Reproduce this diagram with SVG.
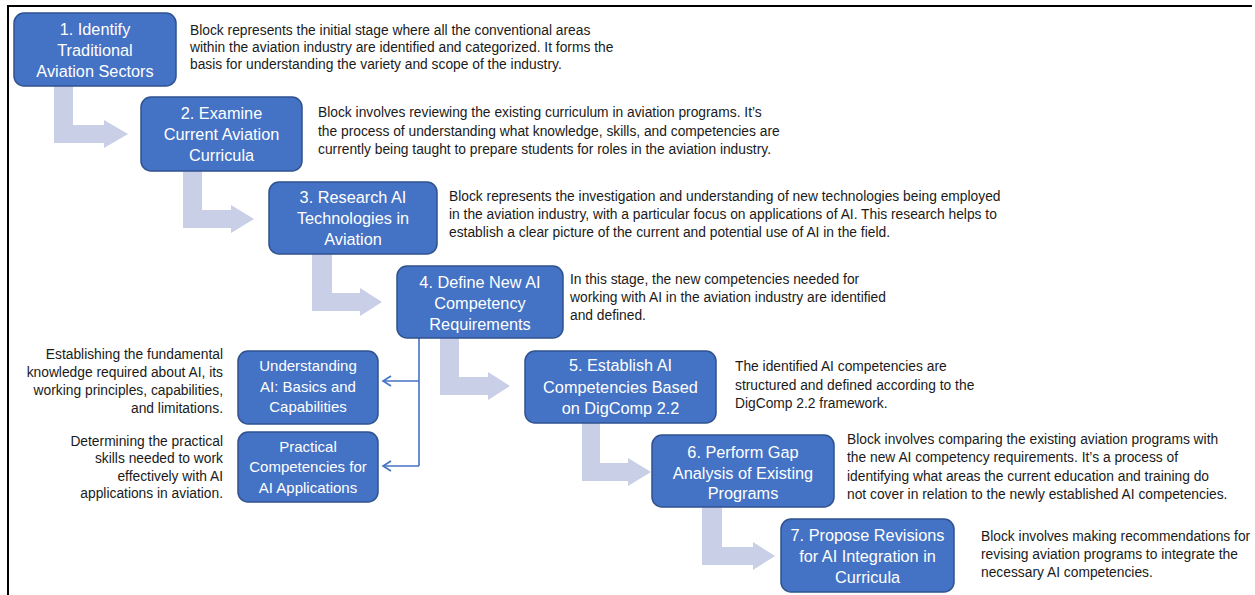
<svg xmlns="http://www.w3.org/2000/svg" width="1255" height="595" viewBox="0 0 1255 595">
<defs>
<style>
.box{fill:#4472C4;stroke:#2F528F;stroke-width:1.5}
.bt{font-family:"Liberation Sans",Arial,sans-serif;font-size:16.3px;fill:#fff;text-anchor:middle}
.st{font-family:"Liberation Sans",Arial,sans-serif;font-size:15px;fill:#fff;text-anchor:middle}
.d{font-family:"Liberation Sans",Arial,sans-serif;font-size:13.8px;fill:#1a1a1a}
.dr{font-family:"Liberation Sans",Arial,sans-serif;font-size:13.8px;fill:#1a1a1a;text-anchor:end}
.fat{fill:#C8CFE6}
.ln{fill:none;stroke:#4472C4;stroke-width:1.6}
</style>
<marker id="open" markerWidth="12" markerHeight="12" refX="9" refY="6" orient="auto" markerUnits="userSpaceOnUse">
<path d="M1,1 L9,6 L1,11" fill="none" stroke="#4472C4" stroke-width="1.6"/>
</marker>
</defs>
<rect width="1255" height="595" fill="#fff"/>
<path d="M8,595 L8,6 L1252,6" fill="none" stroke="#000" stroke-width="2"/>

<g id="connectors">
<path class="fat" d="M54,86 H73 V125 H104 V120 L128,134 L104,148 V143 H54 Z"/>
<path class="fat" d="M183,171 H202 V210 H231 V205 L254,219 L231,233 V228 H183 Z"/>
<path class="fat" d="M312,254 H332 V293 H360 V288 L382,302 L360,316 V311 H312 Z"/>
<path class="fat" d="M440,338 H459 V377 H488 V372 L510,386 L488,400 V395 H440 Z"/>
<path class="fat" d="M582,423 H600 V463 H628 V458 L651,472 L628,486 V481 H582 Z"/>
<path class="fat" d="M702,507 H722 V547 H753 V542 L775,556 L753,570 V565 H702 Z"/>
<path class="ln" d="M419,338 V466"/>
<path class="ln" d="M419,381 H383" marker-end="url(#open)"/>
<path class="ln" d="M419,466 H383" marker-end="url(#open)"/>
</g>

<g id="n1">
<rect class="box" x="14" y="13" width="162" height="73" rx="10"/>
<text class="bt" x="95" y="35">1. Identify</text>
<text class="bt" x="95" y="56">Traditional</text>
<text class="bt" x="95" y="77">Aviation Sectors</text>
</g>
<g id="d1">
<text class="d" x="190" y="35">Block represents the initial stage where all the conventional areas</text>
<text class="d" x="190" y="52">within the aviation industry are identified and categorized. It forms the</text>
<text class="d" x="190" y="69">basis for understanding the variety and scope of the industry.</text>
</g>

<g id="n2">
<rect class="box" x="141" y="97" width="161" height="74" rx="10"/>
<text class="bt" x="221.5" y="119">2. Examine</text>
<text class="bt" x="221.5" y="140">Current Aviation</text>
<text class="bt" x="221.5" y="161">Curricula</text>
</g>
<g id="d2">
<text class="d" x="318" y="117">Block involves reviewing the existing curriculum in aviation programs. It’s</text>
<text class="d" x="318" y="135.5">the process of understanding what knowledge, skills, and competencies are</text>
<text class="d" x="318" y="154">currently being taught to prepare students for roles in the aviation industry.</text>
</g>

<g id="n3">
<rect class="box" x="269" y="182" width="168" height="72" rx="10"/>
<text class="bt" x="353" y="203">3. Research AI</text>
<text class="bt" x="353" y="224">Technologies in</text>
<text class="bt" x="353" y="245">Aviation</text>
</g>
<g id="d3">
<text class="d" x="449" y="201">Block represents the investigation and understanding of new technologies being employed</text>
<text class="d" x="449" y="219">in the aviation industry, with a particular focus on applications of AI. This research helps to</text>
<text class="d" x="449" y="237">establish a clear picture of the current and potential use of AI in the field.</text>
</g>

<g id="n4">
<rect class="box" x="397" y="266" width="166" height="72" rx="10"/>
<text class="bt" x="480" y="288">4. Define New AI</text>
<text class="bt" x="480" y="309">Competency</text>
<text class="bt" x="480" y="330">Requirements</text>
</g>
<g id="d4">
<text class="d" x="570" y="284">In this stage, the new competencies needed for</text>
<text class="d" x="570" y="302">working with AI in the aviation industry are identified</text>
<text class="d" x="570" y="320">and defined.</text>
</g>

<g id="n5">
<rect class="box" x="525" y="351" width="191" height="72" rx="10"/>
<text class="bt" x="620.5" y="371">5. Establish AI</text>
<text class="bt" x="620.5" y="392.5">Competencies Based</text>
<text class="bt" x="620.5" y="414">on DigComp 2.2</text>
</g>
<g id="d5">
<text class="d" x="735" y="371">The identified AI competencies are</text>
<text class="d" x="735" y="390">structured and defined according to the</text>
<text class="d" x="735" y="408">DigComp 2.2 framework.</text>
</g>

<g id="n6">
<rect class="box" x="652" y="435" width="182" height="72" rx="10"/>
<text class="bt" x="743" y="458">6. Perform Gap</text>
<text class="bt" x="743" y="478.5">Analysis of Existing</text>
<text class="bt" x="743" y="499">Programs</text>
</g>
<g id="d6">
<text class="d" x="847" y="444">Block involves comparing the existing aviation programs with</text>
<text class="d" x="847" y="462">the new AI competency requirements. It’s a process of</text>
<text class="d" x="847" y="480.5">identifying what areas the current education and training do</text>
<text class="d" x="847" y="499">not cover in relation to the newly established AI competencies.</text>
</g>

<g id="n7">
<rect class="box" x="781" y="519" width="173" height="73" rx="10"/>
<text class="bt" x="867.5" y="541">7. Propose Revisions</text>
<text class="bt" x="867.5" y="562">for AI Integration in</text>
<text class="bt" x="867.5" y="583">Curricula</text>
</g>
<g id="d7">
<text class="d" x="981" y="541">Block involves making recommendations for</text>
<text class="d" x="981" y="559">revising aviation programs to integrate the</text>
<text class="d" x="981" y="577">necessary AI competencies.</text>
</g>

<g id="s1">
<rect class="box" x="238" y="351" width="140" height="73" rx="10"/>
<text class="st" x="308" y="371">Understanding</text>
<text class="st" x="308" y="391.5">AI: Basics and</text>
<text class="st" x="308" y="412">Capabilities</text>
</g>
<g id="ds1">
<text class="dr" x="223" y="359">Establishing the fundamental</text>
<text class="dr" x="223" y="377">knowledge required about AI, its</text>
<text class="dr" x="223" y="395">working principles, capabilities,</text>
<text class="dr" x="223" y="412.5">and limitations.</text>
</g>

<g id="s2">
<rect class="box" x="238" y="432" width="140" height="70" rx="10"/>
<text class="st" x="308" y="452">Practical</text>
<text class="st" x="308" y="472">Competencies for</text>
<text class="st" x="308" y="493">AI Applications</text>
</g>
<g id="ds2">
<text class="dr" x="223" y="446">Determining the practical</text>
<text class="dr" x="223" y="463">skills needed to work</text>
<text class="dr" x="223" y="480.5">effectively with AI</text>
<text class="dr" x="223" y="498">applications in aviation.</text>
</g>
</svg>
